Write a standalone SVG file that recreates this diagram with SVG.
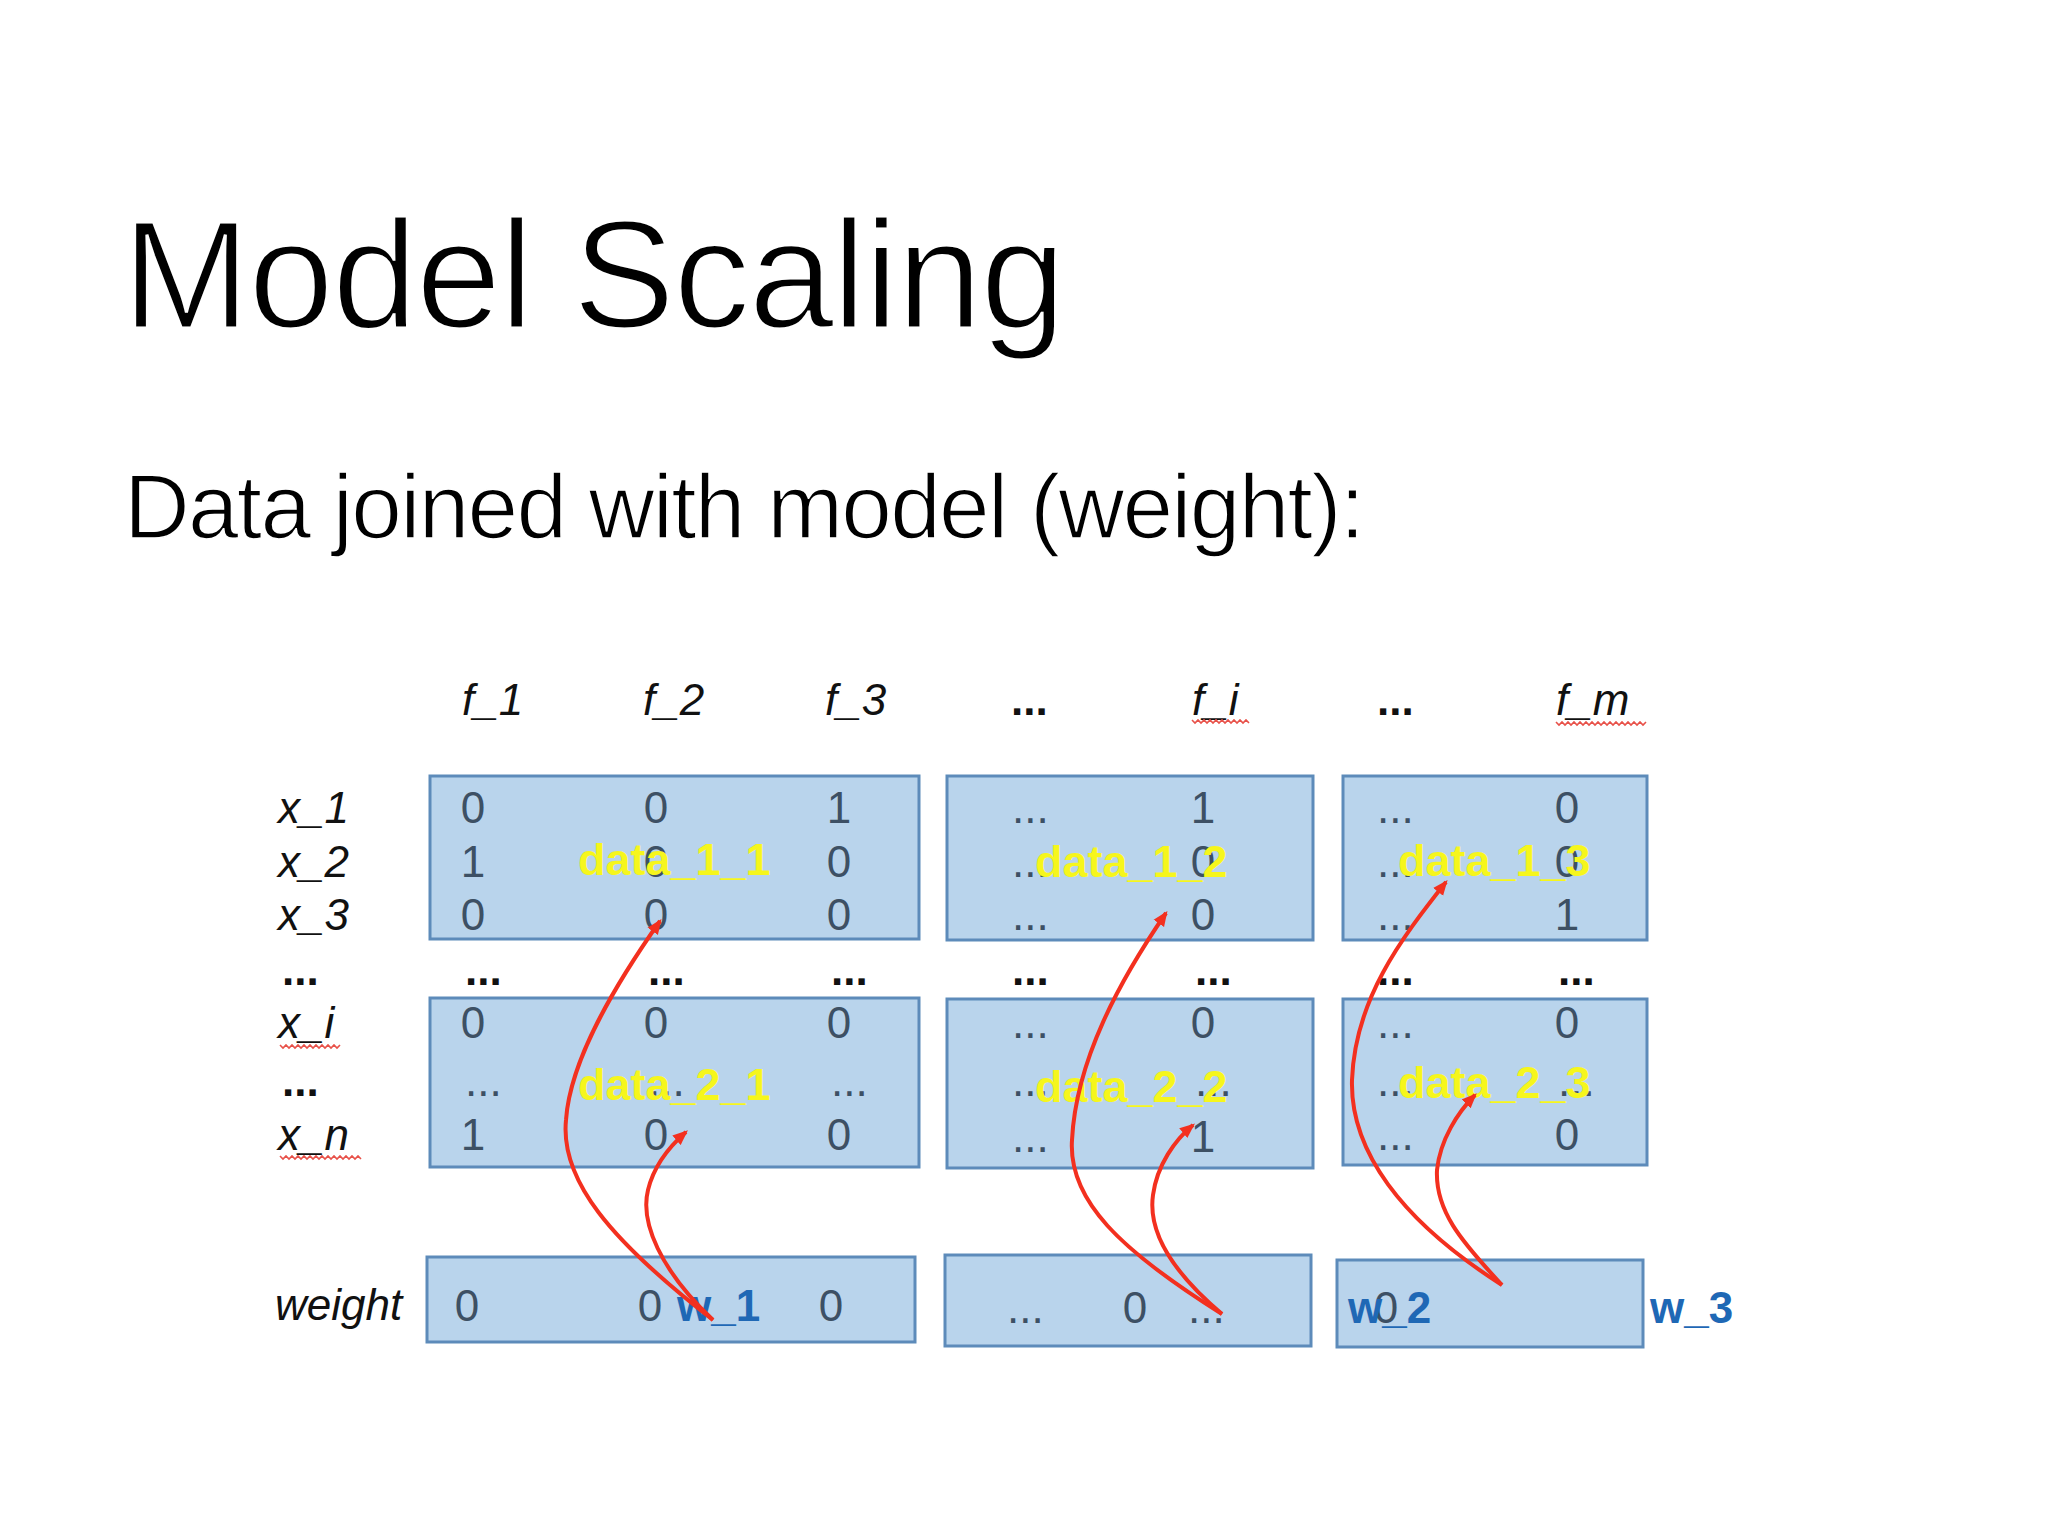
<svg xmlns="http://www.w3.org/2000/svg" width="2048" height="1536" viewBox="0 0 2048 1536">
<defs>
<style>
.title{font-family:"Liberation Sans",Arial,sans-serif;fill:#000;stroke:#fff}
.lbl{font-family:"Liberation Sans",Arial,sans-serif;font-style:italic;font-size:44px;fill:#111}
.num{font-family:"Liberation Sans",Arial,sans-serif;font-size:44px;fill:#3d5064}
.c{text-anchor:middle}
.dots{font-family:"Liberation Sans",Arial,sans-serif;font-size:44px;font-weight:bold;fill:#111}
.yel{font-family:"Liberation Sans",Arial,sans-serif;font-weight:bold;font-size:45px;fill:#f6f61c}
.blu{font-family:"Liberation Sans",Arial,sans-serif;font-weight:bold;font-size:44px;fill:#1f68b5}
.box{fill:#b9d4ec;stroke:#5d8bba;stroke-width:3}
.arr{fill:none;stroke:#f3301f;stroke-width:4;marker-end:url(#ah)}
.sq{fill:none;stroke:#e8524a;stroke-width:1.6}
</style>
<marker id="ah" viewBox="0 0 12 10" refX="10" refY="5" markerWidth="3.8" markerHeight="3.6" orient="auto" markerUnits="strokeWidth">
<path d="M0,0 L12,5 L0,10 z" fill="#f3301f"/>
</marker>
</defs>
<rect width="2048" height="1536" fill="#ffffff"/>

<g id="title">
<text class="title" x="122" y="328" font-size="154" stroke-width="3" textLength="944" lengthAdjust="spacing">Model Scaling</text>
</g>
<g id="subtitle">
<text class="title" x="124" y="538" font-size="91" stroke-width="1.6" textLength="1241" lengthAdjust="spacing">Data joined with model (weight):</text>
</g>

<g id="header">
<text class="lbl" x="462" y="715">f_1</text>
<text class="lbl" x="643" y="715">f_2</text>
<text class="lbl" x="825" y="715">f_3</text>
<text class="dots" x="1011" y="715">...</text>
<text class="lbl" x="1192" y="715">f_i</text>
<text class="dots" x="1377" y="715">...</text>
<text class="lbl" x="1556" y="715">f_m</text>
<path class="sq" d="M1192,720 l3,3 l3,-3 l3,3 l3,-3 l3,3 l3,-3 l3,3 l3,-3 l3,3 l3,-3 l3,3 l3,-3 l3,3 l3,-3 l3,3 l3,-3 l3,3 l3,-3 l3,3"/>
<path class="sq" d="M1556,722 l3,3 l3,-3 l3,3 l3,-3 l3,3 l3,-3 l3,3 l3,-3 l3,3 l3,-3 l3,3 l3,-3 l3,3 l3,-3 l3,3 l3,-3 l3,3 l3,-3 l3,3 l3,-3 l3,3 l3,-3 l3,3 l3,-3 l3,3 l3,-3 l3,3 l3,-3 l3,3 l3,-3"/>
</g>

<g id="row-labels">
<text class="lbl" x="278" y="823">x_1</text>
<text class="lbl" x="278" y="877">x_2</text>
<text class="lbl" x="278" y="930">x_3</text>
<text class="dots" x="282" y="985">...</text>
<text class="lbl" x="278" y="1038">x_i</text>
<text class="dots" x="282" y="1096">...</text>
<text class="lbl" x="278" y="1150">x_n</text>
<text class="lbl" x="275" y="1320">weight</text>
<path class="sq" d="M280,1045 l3,3 l3,-3 l3,3 l3,-3 l3,3 l3,-3 l3,3 l3,-3 l3,3 l3,-3 l3,3 l3,-3 l3,3 l3,-3 l3,3 l3,-3 l3,3 l3,-3 l3,3 l3,-3"/>
<path class="sq" d="M280,1156 l3,3 l3,-3 l3,3 l3,-3 l3,3 l3,-3 l3,3 l3,-3 l3,3 l3,-3 l3,3 l3,-3 l3,3 l3,-3 l3,3 l3,-3 l3,3 l3,-3 l3,3 l3,-3 l3,3 l3,-3 l3,3 l3,-3 l3,3 l3,-3 l3,3"/>
</g>

<g id="middle-dots">
<text class="dots" x="465" y="985">...</text>
<text class="dots" x="648" y="985">...</text>
<text class="dots" x="831" y="985">...</text>
<text class="dots" x="1012" y="985">...</text>
<text class="dots" x="1195" y="985">...</text>
<text class="dots" x="1377" y="985">...</text>
<text class="dots" x="1558" y="985">...</text>
</g>

<g id="data_1_1">
<rect class="box" x="430" y="776" width="489" height="163"/>
<text class="num c" x="473" y="823">0</text>
<text class="num c" x="656" y="823">0</text>
<text class="num c" x="839" y="823">1</text>
<text class="num c" x="473" y="877">1</text>
<text class="num c" x="656" y="877">0</text>
<text class="num c" x="839" y="877">0</text>
<text class="num c" x="473" y="930">0</text>
<text class="num c" x="656" y="930">0</text>
<text class="num c" x="839" y="930">0</text>
<text class="yel" x="578" y="875">data_1_1</text>
</g>

<g id="data_1_2">
<rect class="box" x="947" y="776" width="366" height="164"/>
<text class="num" x="1012" y="823">...</text>
<text class="num c" x="1203" y="823">1</text>
<text class="num" x="1012" y="877">...</text>
<text class="num c" x="1203" y="877">0</text>
<text class="num" x="1012" y="930">...</text>
<text class="num c" x="1203" y="930">0</text>
<text class="yel" x="1035" y="877">data_1_2</text>
</g>

<g id="data_1_3">
<rect class="box" x="1343" y="776" width="304" height="164"/>
<text class="num" x="1377" y="823">...</text>
<text class="num c" x="1567" y="823">0</text>
<text class="num" x="1377" y="877">...</text>
<text class="num c" x="1567" y="877">0</text>
<text class="num" x="1377" y="930">...</text>
<text class="num c" x="1567" y="930">1</text>
<text class="yel" x="1398" y="876">data_1_3</text>
</g>

<g id="data_2_1">
<rect class="box" x="430" y="998" width="489" height="169"/>
<text class="num c" x="473" y="1038">0</text>
<text class="num c" x="656" y="1038">0</text>
<text class="num c" x="839" y="1038">0</text>
<text class="num" x="465" y="1096">...</text>
<text class="num" x="648" y="1096">...</text>
<text class="num" x="831" y="1096">...</text>
<text class="num c" x="473" y="1150">1</text>
<text class="num c" x="656" y="1150">0</text>
<text class="num c" x="839" y="1150">0</text>
<text class="yel" x="578" y="1100">data_2_1</text>
</g>

<g id="data_2_2">
<rect class="box" x="947" y="999" width="366" height="169"/>
<text class="num" x="1012" y="1038">...</text>
<text class="num c" x="1203" y="1038">0</text>
<text class="num" x="1012" y="1096">...</text>
<text class="num" x="1195" y="1096">...</text>
<text class="num" x="1012" y="1152">...</text>
<text class="num c" x="1203" y="1152">1</text>
<text class="yel" x="1035" y="1102">data_2_2</text>
</g>

<g id="data_2_3">
<rect class="box" x="1343" y="999" width="304" height="166"/>
<text class="num" x="1377" y="1038">...</text>
<text class="num c" x="1567" y="1038">0</text>
<text class="num" x="1377" y="1096">...</text>
<text class="num" x="1558" y="1096">...</text>
<text class="num" x="1377" y="1150">...</text>
<text class="num c" x="1567" y="1150">0</text>
<text class="yel" x="1398" y="1098">data_2_3</text>
</g>

<g id="weight_box_1">
<rect class="box" x="427" y="1257" width="488" height="85"/>
<text class="num c" x="467" y="1321">0</text>
<text class="num c" x="650" y="1321">0</text>
<text class="num c" x="831" y="1321">0</text>
<text class="blu" x="677" y="1321">w_1</text>
</g>

<g id="weight_box_2">
<rect class="box" x="945" y="1255" width="366" height="91"/>
<text class="num" x="1007" y="1323">...</text>
<text class="num c" x="1135" y="1323">0</text>
<text class="num" x="1188" y="1323">...</text>
</g>

<g id="weight_box_3">
<rect class="box" x="1337" y="1260" width="306" height="87"/>
<text class="num c" x="1386" y="1323">0</text>
<text class="blu" x="1348" y="1323">w_2</text>
<text class="blu" x="1650" y="1323">w_3</text>
</g>

<g id="connectors">
<path class="arr" d="M713,1320 C610,1240 560,1180 566,1120 C570,1060 615,985 660,921"/>
<path class="arr" d="M713,1320 C660,1270 640,1222 648,1190 C654,1165 670,1146 686,1132"/>
<path class="arr" d="M1222,1314 C1120,1250 1068,1200 1072,1140 C1076,1060 1120,980 1166,913"/>
<path class="arr" d="M1222,1314 C1170,1270 1148,1230 1153,1195 C1157,1165 1175,1140 1193,1125"/>
<path class="arr" d="M1502,1285 C1400,1220 1350,1150 1352,1080 C1355,1000 1400,940 1446,882"/>
<path class="arr" d="M1502,1285 C1460,1240 1435,1210 1437,1170 C1440,1140 1458,1112 1475,1095"/>
</g>
</svg>
